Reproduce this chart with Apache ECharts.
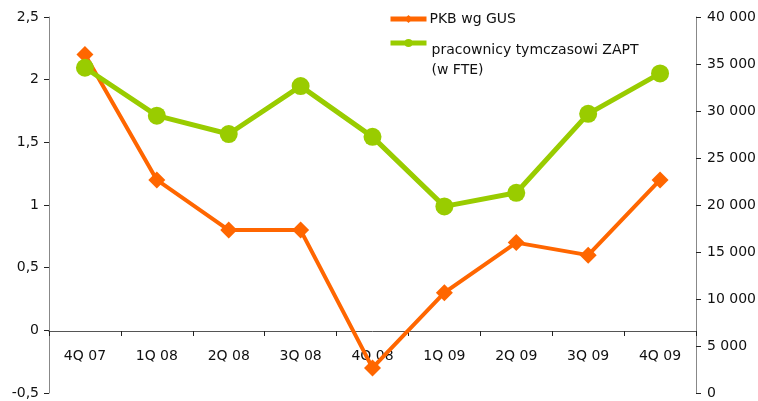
<!DOCTYPE html>
<html>
<head>
<meta charset="utf-8">
<script src="https://cdn.jsdelivr.net/npm/echarts@6/dist/echarts.min.js"></script>
<style>html,body{margin:0;padding:0;background:#fff}#c{width:758px;height:401px}</style>
</head>
<body>
<div id="c"></div>
<script>
var categories = ['4Q 07','1Q 08','2Q 08','3Q 08','4Q 08','1Q 09','2Q 09','3Q 09','4Q 09'];
var pkb = [2.2, 1.2, 0.8, 0.8, -0.3, 0.3, 0.7, 0.6, 1.2];
var zapt = [34600, 29500, 27550, 32650, 27250, 19850, 21300, 29700, 34000];
var seriesNames = ['PKB wg GUS', 'pracownicy tymczasowi ZAPT'];
var legendLines = ['pracownicy tymczasowi ZAPT', '(w FTE)'];

var chart = echarts.init(document.getElementById('c'), null, {renderer:'canvas'});
var font = 'DejaVu Sans, Liberation Sans, sans-serif';
var fs = 14;
var axisGray = '#888888';
chart.setOption({
  animation: false,
  textStyle: {fontFamily: font},
  grid: {left: 49, right: 62, top: 17, bottom: 8, containLabel: false, outerBoundsMode: 'none'},
  legend: [{
    data: [seriesNames[0]],
    orient: 'vertical', left: 388, top: 12, padding: 0,
    itemWidth: 36, itemHeight: 10, itemGap: 0,
    lineStyle: {width: 5},
    textStyle: {fontFamily: font, fontSize: fs, color: '#111', padding: [0,0,0,-2]}
  },{
    data: [seriesNames[1]],
    orient: 'vertical', left: 388, top: 16, padding: 0,
    itemWidth: 36, itemHeight: 10,
    lineStyle: {width: 5},
    formatter: function(){ return '{p| }\n{t|' + legendLines[0] + '}\n{t|' + legendLines[1] + '}'; },
    textStyle: {fontFamily: font, fontSize: fs, color: '#111',
      rich: {p: {lineHeight: 34, fontSize: fs}, t: {lineHeight: 20, fontSize: fs, color: '#111', fontFamily: font}}}
  }],
  xAxis: {
    type: 'category', data: categories, boundaryGap: true,
    offset: -62,
    axisLine: {onZero: false, lineStyle: {color: '#555', width: 1}},
    axisTick: {show: true, length: 5, lineStyle: {color: '#222'}},
    axisLabel: {margin: 18, fontSize: fs, color: '#111', fontFamily: font},
    splitLine: {show: false}
  },
  yAxis: [{
    type: 'value', min: -0.5, max: 2.5, interval: 0.5, position: 'left',
    axisLine: {show: true, lineStyle: {color: axisGray}},
    axisTick: {show: true, length: 5, lineStyle: {color: '#222'}},
    axisLabel: {fontSize: fs, color: '#111', margin: 10, fontFamily: font,
      formatter: function(v){ return String(v).replace('.', ','); }},
    splitLine: {show: false}
  },{
    type: 'value', min: 0, max: 40000, interval: 5000, position: 'right',
    axisLine: {show: true, lineStyle: {color: axisGray}},
    axisTick: {show: true, length: 5, lineStyle: {color: '#222'}},
    axisLabel: {fontSize: fs, color: '#111', margin: 11, fontFamily: font,
      formatter: function(v){ return String(v).replace(/\B(?=(\d{3})+(?!\d))/g, ' '); }},
    splitLine: {show: false}
  }],
  series: [{
    name: seriesNames[0], type: 'line', yAxisIndex: 0, data: pkb,
    symbol: 'diamond', symbolSize: 17,
    lineStyle: {color: '#FF6600', width: 4},
    itemStyle: {color: '#FF6600'}
  },{
    name: seriesNames[1], type: 'line', yAxisIndex: 1, data: zapt,
    symbol: 'circle', symbolSize: 18,
    lineStyle: {color: '#99CC00', width: 5},
    itemStyle: {color: '#99CC00'}
  }]
});
</script>
</body>
</html>
